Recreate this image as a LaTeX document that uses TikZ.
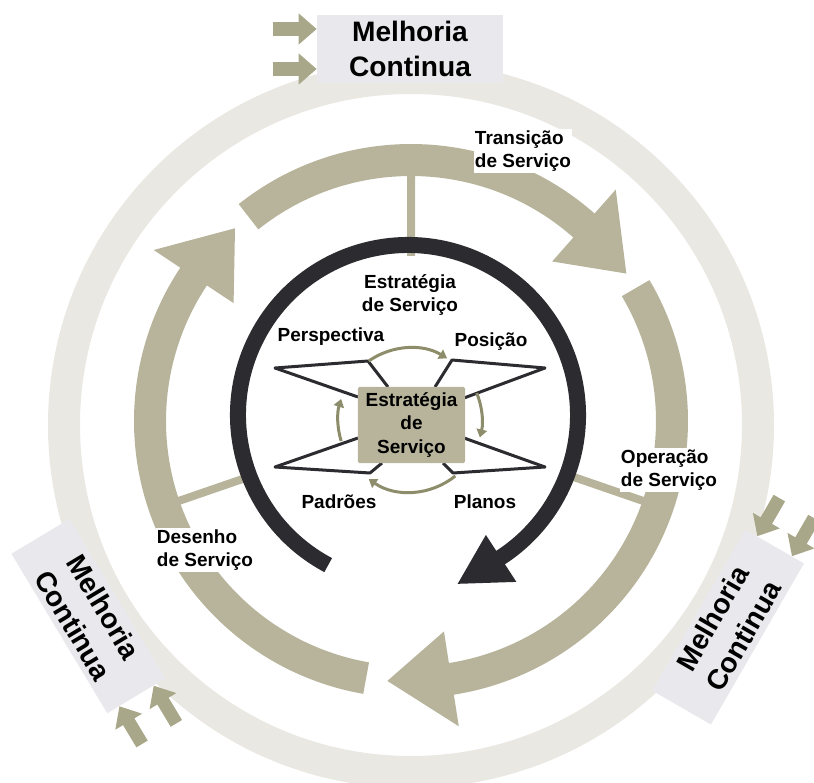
\documentclass[tikz,border=0pt]{standalone}
\usepackage{fontspec}
\setmainfont{Liberation Sans}
\usetikzlibrary{arrows.meta}

\definecolor{haze}{HTML}{EAE8E2}
\definecolor{mist}{HTML}{E9E8EC}
\definecolor{sand}{HTML}{B7B49B}
\definecolor{khaki}{HTML}{A9A789}
\definecolor{coal}{HTML}{2B2B30}
\definecolor{moss}{HTML}{8E8D6B}

\tikzset{
	mcbox/.style={fill=mist, minimum width=4.65cm, minimum height=1.7cm, inner sep=0pt,
		align=center, font=\fontsize{20}{25.5}\selectfont\bfseries},
	lbl/.style={fill=white, inner sep=1pt, align=left, font=\fontsize{13.5}{16.4}\selectfont\bfseries},
	tag/.style={inner sep=0pt, align=center, font=\fontsize{13.5}{16.4}\selectfont\bfseries},
	core/.style={fill=sand, rounded corners=1pt, minimum width=2.675cm, minimum height=1.9cm,
		inner sep=0pt, align=center, font=\fontsize{13.5}{17}\selectfont\bfseries},
	feed/.style={khaki, line width=0.33cm, -{Triangle[length=0.45cm, width=0.75cm]}},
	edge/.style={coal, line width=0.075cm, line join=round},
	turn/.style={moss, line width=0.075cm, -{Triangle[length=0.2cm, width=0.26cm]}},
	inflow/.pic={
		\draw[feed] (-44,20) -- (0,20);
		\draw[feed] (-44,-20) -- (0,-20);
	}
}

\begin{document}
\begin{tikzpicture}[x=0.025cm, y=0.025cm]
	\useasboundingbox (-411,-361) rectangle (403,421);
	% outer ring
	\draw[haze, line width=0.8cm] (0,-4) circle[radius=347];
	% improvement boxes with their inputs
	\node[mcbox] (mcT) at (-1,372) {Melhoria\\Continua};
	\node[mcbox, rotate=-59] (mcL) at (-322.5,-195) {Melhoria\\Continua};
	\node[mcbox, rotate=60] (mcR) at (317,-206) {Melhoria\\Continua};
	\pic at (mcT.west) {inflow};
	\pic[rotate=121] at (mcL.east) {inflow};
	\pic[rotate=240] at (mcR.east) {inflow};
	% spokes
	\draw[sand, line width=0.2cm] (90:165) -- (90:250)
	      (199:165) -- (199:250)
	      (-19:165) -- (-19:250);
	% lifecycle ring
	\draw[sand, line width=0.8cm] (128.5:261) arc[start angle=128.5, end angle=48, radius=261];
	\fill[sand] (48.5:213) -- (34.4:261) -- (48.5:309) -- cycle;
	\draw[sand, line width=0.8cm] (30.6:261) arc[start angle=30.6, end angle=-81.6, radius=261];
	\fill[sand] (-81.1:213) -- (-95.2:261) -- (-81.1:309) -- cycle;
	\draw[sand, line width=0.8cm] (260.1:261) arc[start angle=260.1, end angle=145.9, radius=261];
	\fill[sand] (146.4:213) -- (132.4:261) -- (146.4:309) -- cycle;
	% strategy ring
	\scope[shift={(-3,6)}]
	\draw[coal, line width=0.4cm] (242:170) arc[start angle=242, end angle=-57.5, radius=170];
	\fill[coal] (-57:143) -- (-73.6:176) -- (-57:199) -- cycle;
	\endscope
	% phase labels
	\node[lbl] (trans) at (112,270) {Transição\\de Serviço};
	\node[lbl] (oper) at (258,-49) {Operação\\de Serviço};
	\node[lbl] (desen) at (-206,-129) {Desenho\\de Serviço};
	\node[tag] (estr) at (-1,126) {Estratégia\\de Serviço};
	% the four P's
	\draw[edge] (-53,24) -- (-136,53) -- (-43,60) -- (-23,34);
	\draw[edge] (53,23) -- (134,53) -- (41,61) -- (24,34);
	\draw[edge] (-53,-17) -- (-136,-46) -- (-41,-52) -- (-29,-42);
	\draw[edge] (53,-17) -- (134,-46) -- (42,-52) -- (32,-42);
	\node[core] (core) at (0.5,-4) {Estratégia\\de\\Serviço};
	\scope[shift={(-1,1)}]
	\draw[turn] (125:72) arc[start angle=125, end angle=59, radius=72];
	\draw[turn] (22:72) arc[start angle=22, end angle=-14, radius=72];
	\draw[turn] (-51:72) arc[start angle=-51, end angle=-125, radius=72];
	\draw[turn] (197:72) arc[start angle=197, end angle=163, radius=72];
	\endscope
	\node[tag] (persp) at (-80,84) {Perspectiva};
	\node[tag] (posic) at (80,79) {Posição};
	\node[tag] (padr) at (-72,-81) {Padrões};
	\node[tag] (plan) at (74,-81) {Planos};
\end{tikzpicture}
\end{document}
